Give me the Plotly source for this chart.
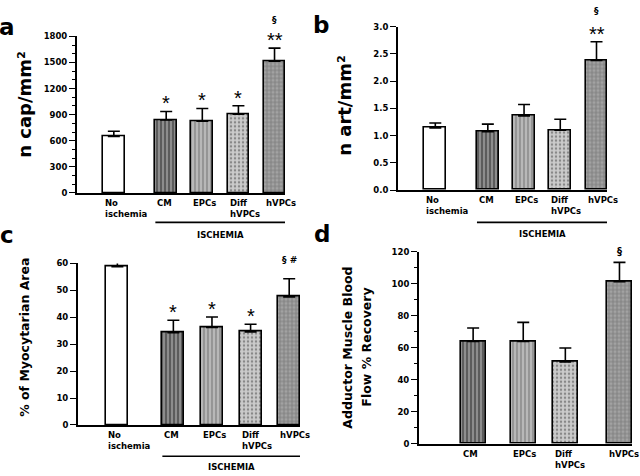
import plotly.graph_objects as go

# ---------------- data ----------------
groups_a = ["No<br>ischemia", "CM", "EPCs", "Diff<br>hVPCs", "hVPCs"]
cap_mean = [650, 840, 825, 905, 1515]
cap_err = [60, 97, 146, 97, 150]
cap_sig = ["", "*", "*", "*", "**"]

art_mean = [1.14, 1.07, 1.36, 1.10, 2.38]
art_err = [0.09, 0.14, 0.21, 0.20, 0.34]
art_sig = ["", "", "", "", "**"]

myo_mean = [58.8, 34.3, 36.2, 34.6, 47.6]
myo_err = [1.8, 4.6, 3.9, 2.8, 6.7]
myo_sig = ["", "*", "*", "*", ""]

groups_d = ["CM", "EPCs", "Diff<br>hVPCs", "hVPCs"]
flow_mean = [63.8, 63.8, 51.1, 101.3]
flow_err = [8.5, 12.0, 8.7, 12.0]

# ---------------- styling / layout helpers ----------------
W, H = 640, 476
FONT = "DejaVu Sans"

def px(x):
    return x / W

def py(y):
    return 1 - y / H

styles = {
    "No<br>ischemia": dict(color="#ffffff", shape="", fg="#ffffff"),
    "CM": dict(color="#5c5c5c", shape="|", fg="#555555"),
    "EPCs": dict(color="#b8b8b8", shape="|", fg="#aaaaaa"),
    "Diff<br>hVPCs": dict(color="#cbcbcb", shape=".", fg="#c0c0c0"),
    "hVPCs": dict(color="#a2a2a2", shape="+", fg="#959595"),
}

pos5 = [0, 1.45, 2.45, 3.45, 4.45]
pos4 = [1.0, 2.0, 2.84, 3.92]

fig = go.Figure()
annotations = []
shapes = []

panels = [
    dict(ax="", cats=groups_a, pos=pos5, m=cap_mean, e=cap_err, sig=cap_sig,
         xd=(77, 285), yd=(192, 32), yr=(0, 1800), dt=300, minor=100, bw=0.6,
         xr=(-1.02, 4.74), fmt=None),
    dict(ax="2", cats=groups_a, pos=pos5, m=art_mean, e=art_err, sig=art_sig,
         xd=(398, 607), yd=(189, 22), yr=(0, 3.0), dt=0.5, minor=None, bw=0.6,
         xr=(-1.03, 4.74), fmt=".1f"),
    dict(ax="3", cats=groups_a, pos=pos5, m=myo_mean, e=myo_err, sig=myo_sig,
         xd=(78, 300), yd=(429, 264), yr=(0, 60), dt=10, minor=None, bw=0.57,
         xr=(-1.02, 4.73), fmt=None),
    dict(ax="4", cats=groups_d, pos=pos4, m=flow_mean, e=flow_err, sig=["", "", "", ""],
         xd=(419, 632), yd=(448, 252), yr=(0, 120), dt=20, minor=10, bw=0.5,
         xr=(-0.08, 4.17), fmt=None),
]

for p in panels:
    xa = "x" + p["ax"]
    ya = "y" + p["ax"]
    fig.add_trace(go.Bar(
        x=p["pos"], y=p["m"], width=p["bw"],
        xaxis=xa, yaxis=ya,
        marker=dict(
            color=[styles[c]["color"] for c in p["cats"]],
            line=dict(color="black", width=1.6),
            pattern=dict(
                shape=[styles[c]["shape"] for c in p["cats"]],
                fgcolor=[styles[c]["fg"] for c in p["cats"]],
                bgcolor=[styles[c]["color"] for c in p["cats"]],
                size=4, solidity=0.3,
            ),
        ),
        error_y=dict(type="data", symmetric=False, array=p["e"],
                     arrayminus=[0] * len(p["e"]), color="black",
                     thickness=1.6, width=6),
        showlegend=False, hoverinfo="skip",
    ))
    xkey = "xaxis" + p["ax"]
    ykey = "yaxis" + p["ax"]
    minor = None
    if p["minor"]:
        minor = dict(dtick=p["minor"], ticks="outside", ticklen=3,
                     tickcolor="black", tickwidth=1.2)
    fig.update_layout(**{
        xkey: dict(domain=[px(p["xd"][0]), px(p["xd"][1])], range=list(p["xr"]),
                   anchor=ya, showline=True, linecolor="black", linewidth=2,
                   showticklabels=False, ticks="", showgrid=False, zeroline=False,
                   fixedrange=True),
        ykey: dict(domain=[py(p["yd"][0]), py(p["yd"][1])], range=list(p["yr"]),
                   anchor=xa, showline=True, linecolor="black", linewidth=2,
                   ticks="outside", ticklen=6, tickwidth=1.2, tickcolor="black",
                   dtick=p["dt"], tick0=0, showgrid=False, zeroline=False,
                   tickformat=p["fmt"], minor=minor,
                   tickfont=dict(family=FONT, size=8.5, color="black", weight="bold"),
                   fixedrange=True),
    })
    # category labels
    for c, x in zip(p["cats"], p["pos"]):
        annotations.append(dict(
            x=x - p["bw"] / 2, y=py(p["yd"][0] + 3), xref=xa, yref="paper",
            text=c, showarrow=False, xanchor="left", yanchor="top", align="left",
            font=dict(family=FONT, size=8.5, color="black", weight="bold"),
        ))
    # significance marks
    for x, m, e, s in zip(p["pos"], p["m"], p["e"], p["sig"]):
        if s:
            annotations.append(dict(
                x=x, y=m + e, xref=xa, yref=ya, text=s, showarrow=False,
                xanchor="center", yanchor="bottom", yshift=-5,
                font=dict(family="Liberation Sans", size=20, color="#000000"),
            ))

# section marks
annotations += [
    dict(x=pos5[4], y=py(15), xref="x", yref="paper", text="§", showarrow=False,
         xanchor="center", yanchor="middle",
         font=dict(family=FONT, size=9, color="black", weight="bold")),
    dict(x=pos5[4], y=py(6), xref="x2", yref="paper", text="§", showarrow=False,
         xanchor="center", yanchor="middle",
         font=dict(family=FONT, size=9, color="black", weight="bold")),
    dict(x=pos5[4], y=py(260), xref="x3", yref="paper", text="§ #", showarrow=False,
         xanchor="center", yanchor="middle",
         font=dict(family=FONT, size=9, color="black", weight="bold")),
    dict(x=pos4[3], y=py(252), xref="x4", yref="paper", text="§", showarrow=False,
         xanchor="center", yanchor="middle",
         font=dict(family=FONT, size=10, color="black", weight="bold")),
]

# ISCHEMIA brackets
for ax, yline, ytext in [("", 222, 235), ("2", 222, 234), ("3", 461, 472)]:
    xa = "x" + ax
    p = panels[["", "2", "3"].index(ax)]
    x0 = p["pos"][1] - p["bw"] / 2
    x1 = p["pos"][4] + p["bw"] / 2
    shapes.append(dict(type="line", xref=xa, yref="paper", x0=x0, x1=x1,
                       y0=py(yline), y1=py(yline),
                       line=dict(color="black", width=1.6)))
    annotations.append(dict(x=(x0 + x1) / 2, y=py(ytext), xref=xa, yref="paper",
                            text="ISCHEMIA", showarrow=False,
                            xanchor="center", yanchor="middle",
                            font=dict(family=FONT, size=8.5, color="black", weight="bold")))

# axis titles
def vtitle(x, y, text, size):
    return dict(x=px(x), y=py(y), xref="paper", yref="paper", text=text,
                textangle=-90, showarrow=False, xanchor="center", yanchor="middle",
                font=dict(family=FONT, size=size, color="black", weight="bold"))

annotations += [
    vtitle(25, 102, "n cap/mm²", 18),
    vtitle(345, 103, "n art/mm²", 18),
    vtitle(25, 340, "% of Myocytarian Area", 12.5),
    vtitle(348, 350, "Adductor Muscle Blood", 12.5),
    vtitle(367, 350, "Flow % Recovery", 12.5),
]

# panel letters
for letter, x, y in [("a", 7, 22), ("b", 321, 20), ("c", 7, 235), ("d", 322, 234)]:
    annotations.append(dict(x=px(x), y=py(y), xref="paper", yref="paper", text=letter,
                            showarrow=False, xanchor="center", yanchor="middle",
                            font=dict(family=FONT, size=23, color="black", weight="bold")))

fig.update_layout(
    width=W, height=H, margin=dict(l=0, r=0, t=0, b=0),
    paper_bgcolor="white", plot_bgcolor="white",
    annotations=annotations, shapes=shapes,
    font=dict(family=FONT, color="black"),
    bargap=0,
)

fig.write_html("out.html", config={"displayModeBar": False},
               post_script="document.body.style.margin='0';")
